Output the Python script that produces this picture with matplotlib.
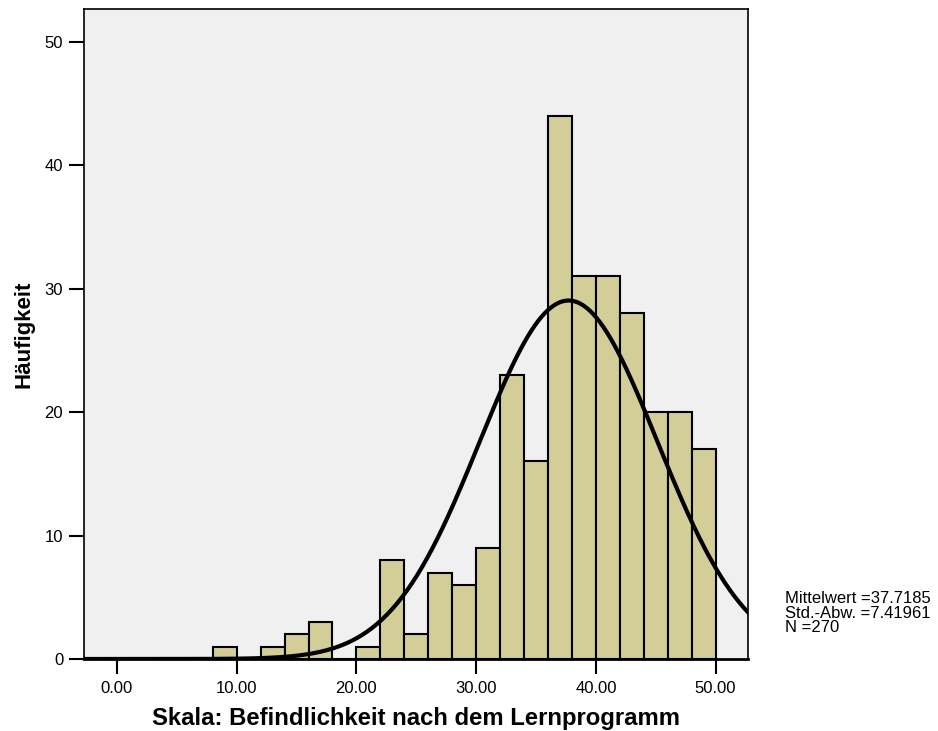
import numpy as np
import matplotlib
matplotlib.use("Agg")
import matplotlib.pyplot as plt

plt.rcParams['font.family'] = ['Liberation Sans', 'DejaVu Sans']

# histogram bins (width 2) and counts
bin_left = [8, 10, 12, 14, 16, 18, 20, 22, 24, 26, 28, 30, 32, 34, 36, 38, 40, 42, 44, 46, 48]
counts = [1, 0, 1, 2, 3, 0, 1, 8, 2, 7, 6, 9, 23, 16, 44, 31, 31, 28, 20, 20, 17]
bin_width = 2

mean = 37.7185
sd = 7.41961
n = 270

xticks = [0, 10, 20, 30, 40, 50]
yticks = [0, 10, 20, 30, 40, 50]

fig = plt.figure(figsize=(9.38, 7.31), dpi=100)
ax = fig.add_axes([0.0896, 0.0985, 0.7078, 0.8892])
ax.set_facecolor('#f0f0f0')

ax.bar(bin_left, counts, width=bin_width, align='edge', color='#d3ce98',
       edgecolor='black', linewidth=1.5, zorder=2)

xs = np.linspace(-3, 53, 400)
curve = n * bin_width * np.exp(-0.5 * ((xs - mean) / sd) ** 2) / (sd * np.sqrt(2 * np.pi))
ax.plot(xs, curve, color='black', linewidth=3, zorder=3)

ax.set_xlim(-2.75, 52.7)
ax.set_ylim(0, 52.65)
ax.set_xticks(xticks)
ax.set_xticklabels(['%.2f' % t for t in xticks])
ax.set_yticks(yticks)
ax.tick_params(direction='out', length=11, width=1.5, labelsize=12, pad=4)
ax.tick_params(axis='x', pad=5)
for s in ax.spines.values():
    s.set_linewidth(1.2)
ax.spines['bottom'].set_linewidth(2)

ax.set_xlabel('Skala: Befindlichkeit nach dem Lernprogramm', fontsize=17.2,
              fontweight='bold', labelpad=8)
ax.set_ylabel('Häufigkeit', fontsize=16, fontweight='bold', labelpad=7)

fig.text(0.837, 0.161, 'Mittelwert =37.7185\nStd.-Abw. =7.41961\nN =270',
         fontsize=12, va='center', ha='left', linespacing=0.95)

fig.savefig('out.png', dpi=100)
